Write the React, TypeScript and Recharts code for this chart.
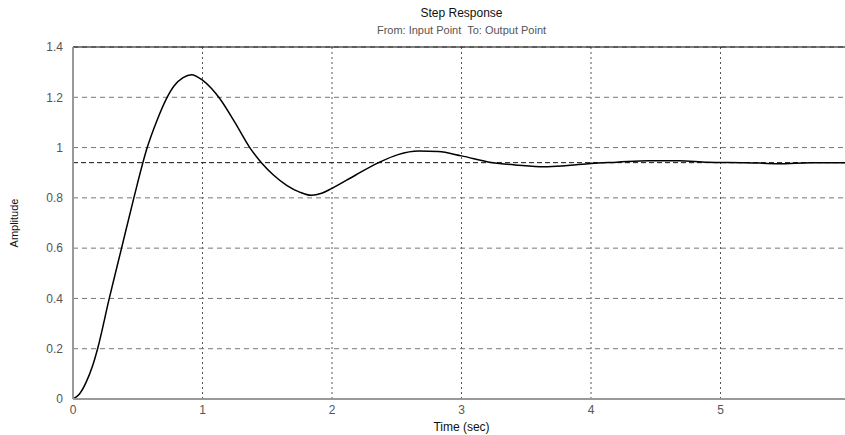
import React from 'react';
import {
  LineChart,
  Line,
  XAxis,
  YAxis,
  CartesianGrid,
  ReferenceLine,
  Label,
} from 'recharts';

// time (sec) and amplitude
const TIME = [
  0, 0.05, 0.1, 0.15, 0.19, 0.28, 0.375, 0.47, 0.573, 0.65, 0.717, 0.78,
  0.85, 0.915, 1.0, 1.07, 1.133, 1.25, 1.365, 1.455, 1.55, 1.65, 1.75, 1.84,
  1.92, 2.0, 2.18, 2.36, 2.51, 2.67, 2.82, 3.0, 3.23, 3.44, 3.64, 3.8, 4.0,
  4.2, 4.45, 4.68, 4.9, 5.2, 5.45, 5.7, 6.0,
];
const AMPLITUDE = [
  0, 0.02, 0.065, 0.13, 0.2, 0.4, 0.6, 0.8, 1.0, 1.11, 1.19, 1.245, 1.278,
  1.29, 1.268, 1.235, 1.195, 1.1, 1.0, 0.94, 0.89, 0.85, 0.823, 0.81, 0.818,
  0.838, 0.89, 0.94, 0.972, 0.986, 0.984, 0.967, 0.941, 0.93, 0.924, 0.928,
  0.937, 0.942, 0.948, 0.948, 0.942, 0.94, 0.936, 0.94, 0.94,
];
const X_TICKS = [0, 1, 2, 3, 4, 5, 6];
const Y_TICKS = [0, 0.2, 0.4, 0.6, 0.8, 1, 1.2, 1.4];
const STEADY_STATE = 0.94;

const data = TIME.map((t, i) => ({ t, y: AMPLITUDE[i] }));

const FONT = '"Liberation Sans", Arial, sans-serif';

export default function App() {
  return (
    <div
      style={{
        position: 'absolute',
        left: 0,
        top: 0,
        width: 845,
        height: 435,
        overflow: 'hidden',
        background: '#fff',
        fontFamily: FONT,
      }}
    >
      <div
        style={{
          position: 'absolute',
          left: 0,
          width: 923,
          top: 6,
          textAlign: 'center',
          fontSize: 12,
          color: '#111',
        }}
      >
        Step Response
      </div>
      <div
        style={{
          position: 'absolute',
          left: 0,
          width: 923,
          top: 24,
          textAlign: 'center',
          fontSize: 11,
          color: '#555',
        }}
      >
        From: Input Point&nbsp; To: Output Point
      </div>
      <LineChart
        width={855}
        height={435}
        data={data}
        margin={{ top: 47, right: 5, bottom: 0, left: 0 }}
      >
        <CartesianGrid
          horizontal={false}
          stroke="#555"
          strokeDasharray="2 3"
        />
        <CartesianGrid
          vertical={false}
          stroke="#777"
          strokeDasharray="5 4"
        />
        <XAxis
          dataKey="t"
          type="number"
          domain={[0, 6]}
          ticks={X_TICKS}
          height={36}
          stroke="#999"
          strokeWidth={2}
          tickLine={false}
          tickSize={4}
          tickMargin={2}
          tick={{ fill: '#555', fontSize: 12, fontFamily: FONT }}
        >
          <Label
            value="Time (sec)"
            position="insideBottom"
            offset={4}
            style={{ fill: '#111', fontSize: 12, fontFamily: FONT }}
          />
        </XAxis>
        <YAxis
          type="number"
          domain={[0, 1.4]}
          ticks={Y_TICKS}
          width={73}
          stroke="#999"
          strokeWidth={2}
          tickLine={false}
          tickSize={6}
          tickMargin={4}
          tick={{ fill: '#555', fontSize: 12, fontFamily: FONT }}
        >
          <Label
            value="Amplitude"
            angle={-90}
            position="insideLeft"
            offset={14}
            style={{
              fill: '#111',
              fontSize: 11,
              fontFamily: '"Liberation Sans Narrow", "Liberation Sans", sans-serif',
              textAnchor: 'middle',
            }}
          />
        </YAxis>
        <ReferenceLine y={1.4} stroke="#000" strokeWidth={1} />
        <ReferenceLine
          y={STEADY_STATE}
          stroke="#111"
          strokeDasharray="5 3"
        />
        <Line
          type="monotone"
          dataKey="y"
          stroke="#000"
          strokeWidth={1.5}
          dot={false}
          isAnimationActive={false}
        />
      </LineChart>
    </div>
  );
}
